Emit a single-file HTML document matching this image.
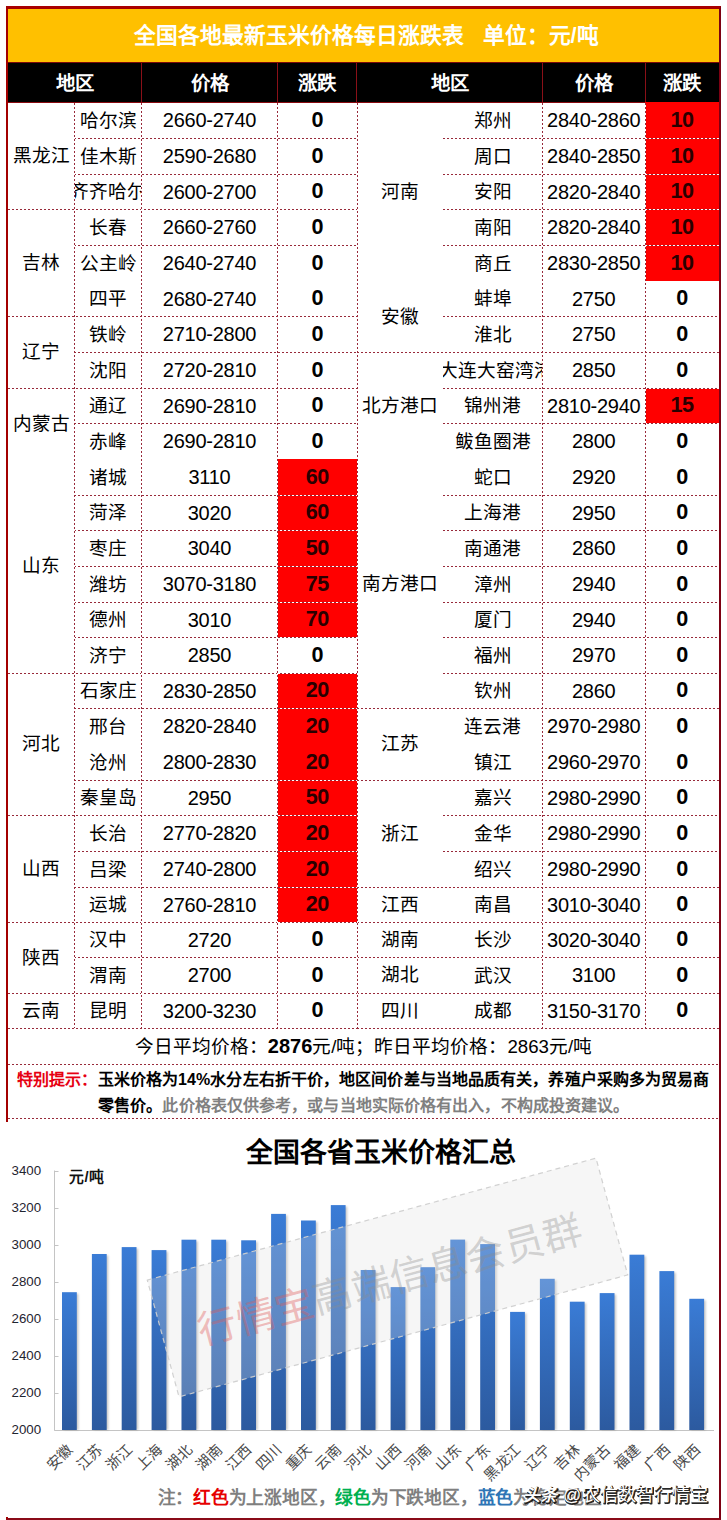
<!DOCTYPE html>
<html lang="zh-CN">
<head>
<meta charset="utf-8">
<title>全国各地最新玉米价格每日涨跌表</title>
<style>
html,body{margin:0;padding:0;background:#fff;}
body{width:727px;height:1520px;position:relative;overflow:hidden;font-family:"Liberation Sans",sans-serif;color:#000;}
div,span{box-sizing:border-box;}
.a{position:absolute;}
.frame{left:6px;top:6px;width:715px;height:1514px;border:2px solid #b3000c;border-top-width:3px;border-color:#a80000 #7d0012 #8a0a18 #a30000;}
.title{left:8px;top:9px;width:711px;height:53px;background:#ffc000;color:#fff;font-weight:bold;font-size:21.7px;line-height:54px;text-align:center;padding-left:6px;white-space:pre;}
.hdr{left:8px;top:62px;width:711px;height:41px;background:#000;border-top:1px solid #7a0a0a;border-bottom:1px solid #8a0a10;}
.hc{top:62px;height:41px;line-height:43px;color:#fff;font-weight:bold;font-size:19.4px;text-align:center;}
.hs{top:63px;width:1px;height:39px;background:#8a1018;}
.c{height:36px;line-height:36px;font-size:18.67px;text-align:center;white-space:nowrap;overflow:hidden;display:flex;justify-content:center;align-items:center;}
.n{font-size:20px;letter-spacing:-0.25px;}
.b span{position:relative;top:-0.5px;}
.b{font-weight:bold;font-size:21.6px;letter-spacing:-0.6px;}
.t span{position:relative;top:0.5px;}
.g span{position:relative;top:-2.5px;}
.sum b{font-size:20px;}
.red{background:#ff0000;}
.red span{color:#2a0000;}
.g{font-size:18.67px;text-align:center;white-space:nowrap;display:flex;justify-content:center;align-items:center;overflow:hidden;}
.hl{height:1px;background:repeating-linear-gradient(90deg,#982a3a 0,#982a3a 2px,#fff 2px,#fff 4px);}
.vl{width:1px;background:repeating-linear-gradient(180deg,#982a3a 0,#982a3a 2px,#fff 2px,#fff 4px);}
.sum{left:8px;top:1029px;width:711px;height:35px;line-height:34px;font-size:18.67px;text-align:center;white-space:nowrap;}
.note{font-size:16px;font-weight:bold;white-space:nowrap;line-height:26px;letter-spacing:0.1px;}
.note .r{color:#e60012;}
.note .gy{color:#808080;}
</style>
</head>
<body>

<div class="a frame"></div>
<div class="a title">全国各地最新玉米价格每日涨跌表   单位：元/吨</div>
<div class="a hdr"></div>
<div class="a hc" style="left:8px;width:133.5px">地区</div>
<div class="a hc" style="left:141.5px;width:136px">价格</div>
<div class="a hc" style="left:277.5px;width:79.5px">涨跌</div>
<div class="a hc" style="left:357px;width:185.5px">地区</div>
<div class="a hc" style="left:542.5px;width:102.5px">价格</div>
<div class="a hc" style="left:645px;width:74px">涨跌</div>
<div class="a hs" style="left:141px"></div>
<div class="a hs" style="left:277px"></div>
<div class="a hs" style="left:356px"></div>
<div class="a hs" style="left:542px"></div>
<div class="a hs" style="left:645px"></div>
<div class="a c t" style="left:74.5px;top:102px;width:67px;height:36px"><span>哈尔滨</span></div>
<div class="a c n" style="left:141.5px;top:102px;width:136px;height:36px"><span>2660-2740</span></div>
<div class="a c b" style="left:277.5px;top:102px;width:79.5px;height:36px"><span>0</span></div>
<div class="a c t" style="left:74.5px;top:138px;width:67px;height:36px"><span>佳木斯</span></div>
<div class="a c n" style="left:141.5px;top:138px;width:136px;height:36px"><span>2590-2680</span></div>
<div class="a c b" style="left:277.5px;top:138px;width:79.5px;height:36px"><span>0</span></div>
<div class="a c t" style="left:74.5px;top:174px;width:67px;height:35px"><span>齐齐哈尔</span></div>
<div class="a c n" style="left:141.5px;top:174px;width:136px;height:35px"><span>2600-2700</span></div>
<div class="a c b" style="left:277.5px;top:174px;width:79.5px;height:35px"><span>0</span></div>
<div class="a c t" style="left:74.5px;top:209px;width:67px;height:36px"><span>长春</span></div>
<div class="a c n" style="left:141.5px;top:209px;width:136px;height:36px"><span>2660-2760</span></div>
<div class="a c b" style="left:277.5px;top:209px;width:79.5px;height:36px"><span>0</span></div>
<div class="a c t" style="left:74.5px;top:245px;width:67px;height:36px"><span>公主岭</span></div>
<div class="a c n" style="left:141.5px;top:245px;width:136px;height:36px"><span>2640-2740</span></div>
<div class="a c b" style="left:277.5px;top:245px;width:79.5px;height:36px"><span>0</span></div>
<div class="a c t" style="left:74.5px;top:281px;width:67px;height:35px"><span>四平</span></div>
<div class="a c n" style="left:141.5px;top:281px;width:136px;height:35px"><span>2680-2740</span></div>
<div class="a c b" style="left:277.5px;top:281px;width:79.5px;height:35px"><span>0</span></div>
<div class="a c t" style="left:74.5px;top:316px;width:67px;height:36px"><span>铁岭</span></div>
<div class="a c n" style="left:141.5px;top:316px;width:136px;height:36px"><span>2710-2800</span></div>
<div class="a c b" style="left:277.5px;top:316px;width:79.5px;height:36px"><span>0</span></div>
<div class="a c t" style="left:74.5px;top:352px;width:67px;height:36px"><span>沈阳</span></div>
<div class="a c n" style="left:141.5px;top:352px;width:136px;height:36px"><span>2720-2810</span></div>
<div class="a c b" style="left:277.5px;top:352px;width:79.5px;height:36px"><span>0</span></div>
<div class="a c t" style="left:74.5px;top:388px;width:67px;height:35px"><span>通辽</span></div>
<div class="a c n" style="left:141.5px;top:388px;width:136px;height:35px"><span>2690-2810</span></div>
<div class="a c b" style="left:277.5px;top:388px;width:79.5px;height:35px"><span>0</span></div>
<div class="a c t" style="left:74.5px;top:423px;width:67px;height:36px"><span>赤峰</span></div>
<div class="a c n" style="left:141.5px;top:423px;width:136px;height:36px"><span>2690-2810</span></div>
<div class="a c b" style="left:277.5px;top:423px;width:79.5px;height:36px"><span>0</span></div>
<div class="a c t" style="left:74.5px;top:459px;width:67px;height:36px"><span>诸城</span></div>
<div class="a c n" style="left:141.5px;top:459px;width:136px;height:36px"><span>3110</span></div>
<div class="a c b red" style="left:277.5px;top:459px;width:79.5px;height:36px"><span>60</span></div>
<div class="a c t" style="left:74.5px;top:495px;width:67px;height:35px"><span>菏泽</span></div>
<div class="a c n" style="left:141.5px;top:495px;width:136px;height:35px"><span>3020</span></div>
<div class="a c b red" style="left:277.5px;top:495px;width:79.5px;height:35px"><span>60</span></div>
<div class="a c t" style="left:74.5px;top:530px;width:67px;height:36px"><span>枣庄</span></div>
<div class="a c n" style="left:141.5px;top:530px;width:136px;height:36px"><span>3040</span></div>
<div class="a c b red" style="left:277.5px;top:530px;width:79.5px;height:36px"><span>50</span></div>
<div class="a c t" style="left:74.5px;top:566px;width:67px;height:36px"><span>潍坊</span></div>
<div class="a c n" style="left:141.5px;top:566px;width:136px;height:36px"><span>3070-3180</span></div>
<div class="a c b red" style="left:277.5px;top:566px;width:79.5px;height:36px"><span>75</span></div>
<div class="a c t" style="left:74.5px;top:602px;width:67px;height:35px"><span>德州</span></div>
<div class="a c n" style="left:141.5px;top:602px;width:136px;height:35px"><span>3010</span></div>
<div class="a c b red" style="left:277.5px;top:602px;width:79.5px;height:35px"><span>70</span></div>
<div class="a c t" style="left:74.5px;top:637px;width:67px;height:36px"><span>济宁</span></div>
<div class="a c n" style="left:141.5px;top:637px;width:136px;height:36px"><span>2850</span></div>
<div class="a c b" style="left:277.5px;top:637px;width:79.5px;height:36px"><span>0</span></div>
<div class="a c t" style="left:74.5px;top:673px;width:67px;height:35px"><span>石家庄</span></div>
<div class="a c n" style="left:141.5px;top:673px;width:136px;height:35px"><span>2830-2850</span></div>
<div class="a c b red" style="left:277.5px;top:673px;width:79.5px;height:35px"><span>20</span></div>
<div class="a c t" style="left:74.5px;top:708px;width:67px;height:36px"><span>邢台</span></div>
<div class="a c n" style="left:141.5px;top:708px;width:136px;height:36px"><span>2820-2840</span></div>
<div class="a c b red" style="left:277.5px;top:708px;width:79.5px;height:36px"><span>20</span></div>
<div class="a c t" style="left:74.5px;top:744px;width:67px;height:36px"><span>沧州</span></div>
<div class="a c n" style="left:141.5px;top:744px;width:136px;height:36px"><span>2800-2830</span></div>
<div class="a c b red" style="left:277.5px;top:744px;width:79.5px;height:36px"><span>20</span></div>
<div class="a c t" style="left:74.5px;top:780px;width:67px;height:35px"><span>秦皇岛</span></div>
<div class="a c n" style="left:141.5px;top:780px;width:136px;height:35px"><span>2950</span></div>
<div class="a c b red" style="left:277.5px;top:780px;width:79.5px;height:35px"><span>50</span></div>
<div class="a c t" style="left:74.5px;top:815px;width:67px;height:36px"><span>长治</span></div>
<div class="a c n" style="left:141.5px;top:815px;width:136px;height:36px"><span>2770-2820</span></div>
<div class="a c b red" style="left:277.5px;top:815px;width:79.5px;height:36px"><span>20</span></div>
<div class="a c t" style="left:74.5px;top:851px;width:67px;height:36px"><span>吕梁</span></div>
<div class="a c n" style="left:141.5px;top:851px;width:136px;height:36px"><span>2740-2800</span></div>
<div class="a c b red" style="left:277.5px;top:851px;width:79.5px;height:36px"><span>20</span></div>
<div class="a c t" style="left:74.5px;top:887px;width:67px;height:35px"><span>运城</span></div>
<div class="a c n" style="left:141.5px;top:887px;width:136px;height:35px"><span>2760-2810</span></div>
<div class="a c b red" style="left:277.5px;top:887px;width:79.5px;height:35px"><span>20</span></div>
<div class="a c t" style="left:74.5px;top:922px;width:67px;height:35px"><span>汉中</span></div>
<div class="a c n" style="left:141.5px;top:922px;width:136px;height:35px"><span>2720</span></div>
<div class="a c b" style="left:277.5px;top:922px;width:79.5px;height:35px"><span>0</span></div>
<div class="a c t" style="left:74.5px;top:957px;width:67px;height:36px"><span>渭南</span></div>
<div class="a c n" style="left:141.5px;top:957px;width:136px;height:36px"><span>2700</span></div>
<div class="a c b" style="left:277.5px;top:957px;width:79.5px;height:36px"><span>0</span></div>
<div class="a c t" style="left:74.5px;top:993px;width:67px;height:35px"><span>昆明</span></div>
<div class="a c n" style="left:141.5px;top:993px;width:136px;height:35px"><span>3200-3230</span></div>
<div class="a c b" style="left:277.5px;top:993px;width:79.5px;height:35px"><span>0</span></div>
<div class="a c t" style="left:443px;top:102px;width:99.5px;height:36px"><span>郑州</span></div>
<div class="a c n" style="left:542.5px;top:102px;width:102.5px;height:36px"><span>2840-2860</span></div>
<div class="a c b red" style="left:645px;top:102px;width:74px;height:36px"><span>10</span></div>
<div class="a c t" style="left:443px;top:138px;width:99.5px;height:36px"><span>周口</span></div>
<div class="a c n" style="left:542.5px;top:138px;width:102.5px;height:36px"><span>2840-2850</span></div>
<div class="a c b red" style="left:645px;top:138px;width:74px;height:36px"><span>10</span></div>
<div class="a c t" style="left:443px;top:174px;width:99.5px;height:35px"><span>安阳</span></div>
<div class="a c n" style="left:542.5px;top:174px;width:102.5px;height:35px"><span>2820-2840</span></div>
<div class="a c b red" style="left:645px;top:174px;width:74px;height:35px"><span>10</span></div>
<div class="a c t" style="left:443px;top:209px;width:99.5px;height:36px"><span>南阳</span></div>
<div class="a c n" style="left:542.5px;top:209px;width:102.5px;height:36px"><span>2820-2840</span></div>
<div class="a c b red" style="left:645px;top:209px;width:74px;height:36px"><span>10</span></div>
<div class="a c t" style="left:443px;top:245px;width:99.5px;height:36px"><span>商丘</span></div>
<div class="a c n" style="left:542.5px;top:245px;width:102.5px;height:36px"><span>2830-2850</span></div>
<div class="a c b red" style="left:645px;top:245px;width:74px;height:36px"><span>10</span></div>
<div class="a c t" style="left:443px;top:281px;width:99.5px;height:35px"><span>蚌埠</span></div>
<div class="a c n" style="left:542.5px;top:281px;width:102.5px;height:35px"><span>2750</span></div>
<div class="a c b" style="left:645px;top:281px;width:74px;height:35px"><span>0</span></div>
<div class="a c t" style="left:443px;top:316px;width:99.5px;height:36px"><span>淮北</span></div>
<div class="a c n" style="left:542.5px;top:316px;width:102.5px;height:36px"><span>2750</span></div>
<div class="a c b" style="left:645px;top:316px;width:74px;height:36px"><span>0</span></div>
<div class="a c t" style="left:443px;top:352px;width:99.5px;height:36px"><span><i style="font-style:normal;padding-left:7px">大连大窑湾港</i></span></div>
<div class="a c n" style="left:542.5px;top:352px;width:102.5px;height:36px"><span>2850</span></div>
<div class="a c b" style="left:645px;top:352px;width:74px;height:36px"><span>0</span></div>
<div class="a c t" style="left:443px;top:388px;width:99.5px;height:35px"><span>锦州港</span></div>
<div class="a c n" style="left:542.5px;top:388px;width:102.5px;height:35px"><span>2810-2940</span></div>
<div class="a c b red" style="left:645px;top:388px;width:74px;height:35px"><span>15</span></div>
<div class="a c t" style="left:443px;top:423px;width:99.5px;height:36px"><span>鲅鱼圈港</span></div>
<div class="a c n" style="left:542.5px;top:423px;width:102.5px;height:36px"><span>2800</span></div>
<div class="a c b" style="left:645px;top:423px;width:74px;height:36px"><span>0</span></div>
<div class="a c t" style="left:443px;top:459px;width:99.5px;height:36px"><span>蛇口</span></div>
<div class="a c n" style="left:542.5px;top:459px;width:102.5px;height:36px"><span>2920</span></div>
<div class="a c b" style="left:645px;top:459px;width:74px;height:36px"><span>0</span></div>
<div class="a c t" style="left:443px;top:495px;width:99.5px;height:35px"><span>上海港</span></div>
<div class="a c n" style="left:542.5px;top:495px;width:102.5px;height:35px"><span>2950</span></div>
<div class="a c b" style="left:645px;top:495px;width:74px;height:35px"><span>0</span></div>
<div class="a c t" style="left:443px;top:530px;width:99.5px;height:36px"><span>南通港</span></div>
<div class="a c n" style="left:542.5px;top:530px;width:102.5px;height:36px"><span>2860</span></div>
<div class="a c b" style="left:645px;top:530px;width:74px;height:36px"><span>0</span></div>
<div class="a c t" style="left:443px;top:566px;width:99.5px;height:36px"><span>漳州</span></div>
<div class="a c n" style="left:542.5px;top:566px;width:102.5px;height:36px"><span>2940</span></div>
<div class="a c b" style="left:645px;top:566px;width:74px;height:36px"><span>0</span></div>
<div class="a c t" style="left:443px;top:602px;width:99.5px;height:35px"><span>厦门</span></div>
<div class="a c n" style="left:542.5px;top:602px;width:102.5px;height:35px"><span>2940</span></div>
<div class="a c b" style="left:645px;top:602px;width:74px;height:35px"><span>0</span></div>
<div class="a c t" style="left:443px;top:637px;width:99.5px;height:36px"><span>福州</span></div>
<div class="a c n" style="left:542.5px;top:637px;width:102.5px;height:36px"><span>2970</span></div>
<div class="a c b" style="left:645px;top:637px;width:74px;height:36px"><span>0</span></div>
<div class="a c t" style="left:443px;top:673px;width:99.5px;height:35px"><span>钦州</span></div>
<div class="a c n" style="left:542.5px;top:673px;width:102.5px;height:35px"><span>2860</span></div>
<div class="a c b" style="left:645px;top:673px;width:74px;height:35px"><span>0</span></div>
<div class="a c t" style="left:443px;top:708px;width:99.5px;height:36px"><span>连云港</span></div>
<div class="a c n" style="left:542.5px;top:708px;width:102.5px;height:36px"><span>2970-2980</span></div>
<div class="a c b" style="left:645px;top:708px;width:74px;height:36px"><span>0</span></div>
<div class="a c t" style="left:443px;top:744px;width:99.5px;height:36px"><span>镇江</span></div>
<div class="a c n" style="left:542.5px;top:744px;width:102.5px;height:36px"><span>2960-2970</span></div>
<div class="a c b" style="left:645px;top:744px;width:74px;height:36px"><span>0</span></div>
<div class="a c t" style="left:443px;top:780px;width:99.5px;height:35px"><span>嘉兴</span></div>
<div class="a c n" style="left:542.5px;top:780px;width:102.5px;height:35px"><span>2980-2990</span></div>
<div class="a c b" style="left:645px;top:780px;width:74px;height:35px"><span>0</span></div>
<div class="a c t" style="left:443px;top:815px;width:99.5px;height:36px"><span>金华</span></div>
<div class="a c n" style="left:542.5px;top:815px;width:102.5px;height:36px"><span>2980-2990</span></div>
<div class="a c b" style="left:645px;top:815px;width:74px;height:36px"><span>0</span></div>
<div class="a c t" style="left:443px;top:851px;width:99.5px;height:36px"><span>绍兴</span></div>
<div class="a c n" style="left:542.5px;top:851px;width:102.5px;height:36px"><span>2980-2990</span></div>
<div class="a c b" style="left:645px;top:851px;width:74px;height:36px"><span>0</span></div>
<div class="a c t" style="left:443px;top:887px;width:99.5px;height:35px"><span>南昌</span></div>
<div class="a c n" style="left:542.5px;top:887px;width:102.5px;height:35px"><span>3010-3040</span></div>
<div class="a c b" style="left:645px;top:887px;width:74px;height:35px"><span>0</span></div>
<div class="a c t" style="left:443px;top:922px;width:99.5px;height:35px"><span>长沙</span></div>
<div class="a c n" style="left:542.5px;top:922px;width:102.5px;height:35px"><span>3020-3040</span></div>
<div class="a c b" style="left:645px;top:922px;width:74px;height:35px"><span>0</span></div>
<div class="a c t" style="left:443px;top:957px;width:99.5px;height:36px"><span>武汉</span></div>
<div class="a c n" style="left:542.5px;top:957px;width:102.5px;height:36px"><span>3100</span></div>
<div class="a c b" style="left:645px;top:957px;width:74px;height:36px"><span>0</span></div>
<div class="a c t" style="left:443px;top:993px;width:99.5px;height:35px"><span>成都</span></div>
<div class="a c n" style="left:542.5px;top:993px;width:102.5px;height:35px"><span>3150-3170</span></div>
<div class="a c b" style="left:645px;top:993px;width:74px;height:35px"><span>0</span></div>
<div class="a g" style="left:8px;top:102px;width:66.5px;height:107px"><span>黑龙江</span></div>
<div class="a g" style="left:8px;top:209px;width:66.5px;height:107px"><span>吉林</span></div>
<div class="a g" style="left:8px;top:316px;width:66.5px;height:72px"><span>辽宁</span></div>
<div class="a g" style="left:8px;top:388px;width:66.5px;height:71px"><span>内蒙古</span></div>
<div class="a g" style="left:8px;top:459px;width:66.5px;height:214px"><span>山东</span></div>
<div class="a g" style="left:8px;top:673px;width:66.5px;height:142px"><span>河北</span></div>
<div class="a g" style="left:8px;top:815px;width:66.5px;height:107px"><span>山西</span></div>
<div class="a g" style="left:8px;top:922px;width:66.5px;height:71px"><span>陕西</span></div>
<div class="a g" style="left:8px;top:993px;width:66.5px;height:35px"><span>云南</span></div>
<div class="a g" style="left:357px;top:102px;width:86px;height:179px"><span>河南</span></div>
<div class="a g" style="left:357px;top:281px;width:86px;height:71px"><span>安徽</span></div>
<div class="a g" style="left:357px;top:352px;width:86px;height:107px"><span>北方港口</span></div>
<div class="a g" style="left:357px;top:459px;width:86px;height:249px"><span>南方港口</span></div>
<div class="a g" style="left:357px;top:708px;width:86px;height:72px"><span>江苏</span></div>
<div class="a g" style="left:357px;top:780px;width:86px;height:107px"><span>浙江</span></div>
<div class="a g" style="left:357px;top:887px;width:86px;height:35px"><span>江西</span></div>
<div class="a g" style="left:357px;top:922px;width:86px;height:35px"><span>湖南</span></div>
<div class="a g" style="left:357px;top:957px;width:86px;height:36px"><span>湖北</span></div>
<div class="a g" style="left:357px;top:993px;width:86px;height:35px"><span>四川</span></div>
<div class="a hl" style="left:74px;top:138px;width:283px"></div>
<div class="a hl" style="left:443px;top:138px;width:276px"></div>
<div class="a hl" style="left:74px;top:174px;width:283px"></div>
<div class="a hl" style="left:443px;top:174px;width:276px"></div>
<div class="a hl" style="left:8px;top:209px;width:349px"></div>
<div class="a hl" style="left:443px;top:209px;width:276px"></div>
<div class="a hl" style="left:74px;top:245px;width:283px"></div>
<div class="a hl" style="left:443px;top:245px;width:276px"></div>
<div class="a hl" style="left:8px;top:316px;width:349px"></div>
<div class="a hl" style="left:443px;top:316px;width:276px"></div>
<div class="a hl" style="left:74px;top:352px;width:283px"></div>
<div class="a hl" style="left:357px;top:352px;width:362px"></div>
<div class="a hl" style="left:8px;top:388px;width:349px"></div>
<div class="a hl" style="left:443px;top:388px;width:276px"></div>
<div class="a hl" style="left:74px;top:423px;width:283px"></div>
<div class="a hl" style="left:443px;top:423px;width:276px"></div>
<div class="a hl" style="left:74px;top:495px;width:283px"></div>
<div class="a hl" style="left:443px;top:495px;width:276px"></div>
<div class="a hl" style="left:74px;top:530px;width:283px"></div>
<div class="a hl" style="left:443px;top:530px;width:276px"></div>
<div class="a hl" style="left:74px;top:566px;width:283px"></div>
<div class="a hl" style="left:443px;top:566px;width:276px"></div>
<div class="a hl" style="left:74px;top:602px;width:283px"></div>
<div class="a hl" style="left:443px;top:602px;width:276px"></div>
<div class="a hl" style="left:74px;top:637px;width:283px"></div>
<div class="a hl" style="left:443px;top:637px;width:276px"></div>
<div class="a hl" style="left:8px;top:673px;width:349px"></div>
<div class="a hl" style="left:443px;top:673px;width:276px"></div>
<div class="a hl" style="left:74px;top:708px;width:283px"></div>
<div class="a hl" style="left:357px;top:708px;width:362px"></div>
<div class="a hl" style="left:74px;top:780px;width:283px"></div>
<div class="a hl" style="left:357px;top:780px;width:362px"></div>
<div class="a hl" style="left:8px;top:815px;width:349px"></div>
<div class="a hl" style="left:443px;top:815px;width:276px"></div>
<div class="a hl" style="left:74px;top:851px;width:283px"></div>
<div class="a hl" style="left:443px;top:851px;width:276px"></div>
<div class="a hl" style="left:74px;top:887px;width:283px"></div>
<div class="a hl" style="left:357px;top:887px;width:362px"></div>
<div class="a hl" style="left:8px;top:922px;width:349px"></div>
<div class="a hl" style="left:357px;top:922px;width:362px"></div>
<div class="a hl" style="left:74px;top:957px;width:283px"></div>
<div class="a hl" style="left:357px;top:957px;width:362px"></div>
<div class="a hl" style="left:8px;top:993px;width:349px"></div>
<div class="a hl" style="left:357px;top:993px;width:362px"></div>
<div class="a hl" style="left:8px;top:1028px;width:349px"></div>
<div class="a hl" style="left:357px;top:1028px;width:362px"></div>
<div class="a vl" style="left:74px;top:103px;width:1px;height:925px"></div>
<div class="a vl" style="left:141px;top:103px;width:1px;height:925px"></div>
<div class="a vl" style="left:277px;top:103px;width:1px;height:925px"></div>
<div class="a vl" style="left:357px;top:103px;width:1px;height:925px"></div>
<div class="a vl" style="left:542px;top:103px;width:1px;height:925px"></div>
<div class="a vl" style="left:645px;top:103px;width:1px;height:925px"></div>
<div class="a sum">今日平均价格：<b>2876</b>元/吨；昨日平均价格：2863元/吨</div>
<div class="a hl" style="left:8px;top:1064px;width:711px"></div>
<div class="a note" style="left:17px;top:1067px"><span class="r">特别提示：</span>玉米价格为14%水分左右折干价，地区间价差与当地品质有关，养殖户采购多为贸易商</div>
<div class="a note" style="left:98px;top:1093px">零售价。<span class="gy">此价格表仅供参考，或与当地实际价格有出入，不构成投资建议。</span></div>
<div class="a hl" style="left:8px;top:1118px;width:711px"></div>
<div class="a" style="left:0;top:1122px;width:719px;height:395px;background:#fff"></div>
<svg class="a" style="left:0;top:1122px" width="727" height="398" viewBox="0 1122 727 398" font-family="'Liberation Sans', sans-serif">
<defs><linearGradient id="bg" x1="0" y1="0" x2="0" y2="1"><stop offset="0" stop-color="#3a7cd6"/><stop offset="1" stop-color="#2c5a9f"/></linearGradient><filter id="sh" x="-30%" y="-5%" width="180%" height="110%"><feGaussianBlur stdDeviation="1.2"/></filter></defs>
<text x="380.5" y="1161.5" text-anchor="middle" font-size="26.9" font-weight="bold" fill="#000">全国各省玉米价格汇总</text>
<path d="M54.5 1170.5V1430.5H714" fill="none" stroke="#c4c4c4" stroke-width="1"/>
<path d="M54.5 1430.5h4" stroke="#c4c4c4" stroke-width="1"/>
<text x="11.5" y="1434.2" font-size="13.3" fill="#1f2430">2000</text>
<path d="M54.5 1393.5h4" stroke="#c4c4c4" stroke-width="1"/>
<text x="11.5" y="1397.2" font-size="13.3" fill="#1f2430">2200</text>
<path d="M54.5 1356.5h4" stroke="#c4c4c4" stroke-width="1"/>
<text x="11.5" y="1360.1" font-size="13.3" fill="#1f2430">2400</text>
<path d="M54.5 1319.5h4" stroke="#c4c4c4" stroke-width="1"/>
<text x="11.5" y="1323.0" font-size="13.3" fill="#1f2430">2600</text>
<path d="M54.5 1282.5h4" stroke="#c4c4c4" stroke-width="1"/>
<text x="11.5" y="1286.0" font-size="13.3" fill="#1f2430">2800</text>
<path d="M54.5 1245.5h4" stroke="#c4c4c4" stroke-width="1"/>
<text x="11.5" y="1249.0" font-size="13.3" fill="#1f2430">3000</text>
<path d="M54.5 1208.5h4" stroke="#c4c4c4" stroke-width="1"/>
<text x="11.5" y="1211.9" font-size="13.3" fill="#1f2430">3200</text>
<path d="M54.5 1171.5h4" stroke="#c4c4c4" stroke-width="1"/>
<text x="11.5" y="1174.9" font-size="13.3" fill="#1f2430">3400</text>
<text x="68.5" y="1181.5" font-size="14.8" letter-spacing="0.9" font-weight="bold" fill="#111">元/吨</text>
<rect x="63.6" y="1293.7" width="14.8" height="136.3" fill="#000" opacity="0.22" filter="url(#sh)"/>
<rect x="62.0" y="1292.2" width="14.8" height="137.8" fill="url(#bg)"/>
<rect x="93.5" y="1255.5" width="14.8" height="174.5" fill="#000" opacity="0.22" filter="url(#sh)"/>
<rect x="91.9" y="1254.0" width="14.8" height="176.0" fill="url(#bg)"/>
<rect x="123.3" y="1248.6" width="14.8" height="181.4" fill="#000" opacity="0.22" filter="url(#sh)"/>
<rect x="121.7" y="1247.1" width="14.8" height="182.9" fill="url(#bg)"/>
<rect x="153.2" y="1251.6" width="14.8" height="178.4" fill="#000" opacity="0.22" filter="url(#sh)"/>
<rect x="151.6" y="1250.1" width="14.8" height="179.9" fill="url(#bg)"/>
<rect x="183.1" y="1241.2" width="14.8" height="188.8" fill="#000" opacity="0.22" filter="url(#sh)"/>
<rect x="181.5" y="1239.7" width="14.8" height="190.3" fill="url(#bg)"/>
<rect x="212.9" y="1241.2" width="14.8" height="188.8" fill="#000" opacity="0.22" filter="url(#sh)"/>
<rect x="211.3" y="1239.7" width="14.8" height="190.3" fill="url(#bg)"/>
<rect x="242.8" y="1241.8" width="14.8" height="188.2" fill="#000" opacity="0.22" filter="url(#sh)"/>
<rect x="241.2" y="1240.3" width="14.8" height="189.7" fill="url(#bg)"/>
<rect x="272.7" y="1215.4" width="14.8" height="214.6" fill="#000" opacity="0.22" filter="url(#sh)"/>
<rect x="271.1" y="1213.9" width="14.8" height="216.1" fill="url(#bg)"/>
<rect x="302.6" y="1222.0" width="14.8" height="208.0" fill="#000" opacity="0.22" filter="url(#sh)"/>
<rect x="301.0" y="1220.5" width="14.8" height="209.5" fill="url(#bg)"/>
<rect x="332.4" y="1206.6" width="14.8" height="223.4" fill="#000" opacity="0.22" filter="url(#sh)"/>
<rect x="330.8" y="1205.1" width="14.8" height="224.9" fill="url(#bg)"/>
<rect x="362.3" y="1271.5" width="14.8" height="158.5" fill="#000" opacity="0.22" filter="url(#sh)"/>
<rect x="360.7" y="1270.0" width="14.8" height="160.0" fill="url(#bg)"/>
<rect x="392.2" y="1288.6" width="14.8" height="141.4" fill="#000" opacity="0.22" filter="url(#sh)"/>
<rect x="390.6" y="1287.1" width="14.8" height="142.9" fill="url(#bg)"/>
<rect x="422.0" y="1268.7" width="14.8" height="161.3" fill="#000" opacity="0.22" filter="url(#sh)"/>
<rect x="420.4" y="1267.2" width="14.8" height="162.8" fill="url(#bg)"/>
<rect x="451.9" y="1241.1" width="14.8" height="188.9" fill="#000" opacity="0.22" filter="url(#sh)"/>
<rect x="450.3" y="1239.6" width="14.8" height="190.4" fill="url(#bg)"/>
<rect x="481.8" y="1245.6" width="14.8" height="184.4" fill="#000" opacity="0.22" filter="url(#sh)"/>
<rect x="480.2" y="1244.1" width="14.8" height="185.9" fill="url(#bg)"/>
<rect x="511.7" y="1313.4" width="14.8" height="116.6" fill="#000" opacity="0.22" filter="url(#sh)"/>
<rect x="510.1" y="1311.9" width="14.8" height="118.1" fill="url(#bg)"/>
<rect x="541.5" y="1280.3" width="14.8" height="149.7" fill="#000" opacity="0.22" filter="url(#sh)"/>
<rect x="539.9" y="1278.8" width="14.8" height="151.2" fill="url(#bg)"/>
<rect x="571.4" y="1303.2" width="14.8" height="126.8" fill="#000" opacity="0.22" filter="url(#sh)"/>
<rect x="569.8" y="1301.7" width="14.8" height="128.3" fill="url(#bg)"/>
<rect x="601.3" y="1294.6" width="14.8" height="135.4" fill="#000" opacity="0.22" filter="url(#sh)"/>
<rect x="599.7" y="1293.1" width="14.8" height="136.9" fill="url(#bg)"/>
<rect x="631.1" y="1256.2" width="14.8" height="173.8" fill="#000" opacity="0.22" filter="url(#sh)"/>
<rect x="629.5" y="1254.7" width="14.8" height="175.3" fill="url(#bg)"/>
<rect x="661.0" y="1272.6" width="14.8" height="157.4" fill="#000" opacity="0.22" filter="url(#sh)"/>
<rect x="659.4" y="1271.1" width="14.8" height="158.9" fill="url(#bg)"/>
<rect x="690.9" y="1300.3" width="14.8" height="129.7" fill="#000" opacity="0.22" filter="url(#sh)"/>
<rect x="689.3" y="1298.8" width="14.8" height="131.2" fill="url(#bg)"/>
<text transform="translate(70.2 1446.3) rotate(-45)" text-anchor="end" dy="5.2" font-family="'Liberation Serif', serif" font-size="14.6" fill="#4a4a4a">安徽</text>
<text transform="translate(100.1 1446.3) rotate(-45)" text-anchor="end" dy="5.2" font-family="'Liberation Serif', serif" font-size="14.6" fill="#4a4a4a">江苏</text>
<text transform="translate(129.9 1446.3) rotate(-45)" text-anchor="end" dy="5.2" font-family="'Liberation Serif', serif" font-size="14.6" fill="#4a4a4a">浙江</text>
<text transform="translate(159.8 1446.3) rotate(-45)" text-anchor="end" dy="5.2" font-family="'Liberation Serif', serif" font-size="14.6" fill="#4a4a4a">上海</text>
<text transform="translate(189.7 1446.3) rotate(-45)" text-anchor="end" dy="5.2" font-family="'Liberation Serif', serif" font-size="14.6" fill="#4a4a4a">湖北</text>
<text transform="translate(219.6 1446.3) rotate(-45)" text-anchor="end" dy="5.2" font-family="'Liberation Serif', serif" font-size="14.6" fill="#4a4a4a">湖南</text>
<text transform="translate(249.4 1446.3) rotate(-45)" text-anchor="end" dy="5.2" font-family="'Liberation Serif', serif" font-size="14.6" fill="#4a4a4a">江西</text>
<text transform="translate(279.3 1446.3) rotate(-45)" text-anchor="end" dy="5.2" font-family="'Liberation Serif', serif" font-size="14.6" fill="#4a4a4a">四川</text>
<text transform="translate(309.2 1446.3) rotate(-45)" text-anchor="end" dy="5.2" font-family="'Liberation Serif', serif" font-size="14.6" fill="#4a4a4a">重庆</text>
<text transform="translate(339.0 1446.3) rotate(-45)" text-anchor="end" dy="5.2" font-family="'Liberation Serif', serif" font-size="14.6" fill="#4a4a4a">云南</text>
<text transform="translate(368.9 1446.3) rotate(-45)" text-anchor="end" dy="5.2" font-family="'Liberation Serif', serif" font-size="14.6" fill="#4a4a4a">河北</text>
<text transform="translate(398.8 1446.3) rotate(-45)" text-anchor="end" dy="5.2" font-family="'Liberation Serif', serif" font-size="14.6" fill="#4a4a4a">山西</text>
<text transform="translate(428.6 1446.3) rotate(-45)" text-anchor="end" dy="5.2" font-family="'Liberation Serif', serif" font-size="14.6" fill="#4a4a4a">河南</text>
<text transform="translate(458.5 1446.3) rotate(-45)" text-anchor="end" dy="5.2" font-family="'Liberation Serif', serif" font-size="14.6" fill="#4a4a4a">山东</text>
<text transform="translate(488.4 1446.3) rotate(-45)" text-anchor="end" dy="5.2" font-family="'Liberation Serif', serif" font-size="14.6" fill="#4a4a4a">广东</text>
<text transform="translate(518.2 1446.3) rotate(-45)" text-anchor="end" dy="5.2" font-family="'Liberation Serif', serif" font-size="14.6" fill="#4a4a4a">黑龙江</text>
<text transform="translate(548.1 1446.3) rotate(-45)" text-anchor="end" dy="5.2" font-family="'Liberation Serif', serif" font-size="14.6" fill="#4a4a4a">辽宁</text>
<text transform="translate(578.0 1446.3) rotate(-45)" text-anchor="end" dy="5.2" font-family="'Liberation Serif', serif" font-size="14.6" fill="#4a4a4a">吉林</text>
<text transform="translate(607.9 1446.3) rotate(-45)" text-anchor="end" dy="5.2" font-family="'Liberation Serif', serif" font-size="14.6" fill="#4a4a4a">内蒙古</text>
<text transform="translate(637.7 1446.3) rotate(-45)" text-anchor="end" dy="5.2" font-family="'Liberation Serif', serif" font-size="14.6" fill="#4a4a4a">福建</text>
<text transform="translate(667.6 1446.3) rotate(-45)" text-anchor="end" dy="5.2" font-family="'Liberation Serif', serif" font-size="14.6" fill="#4a4a4a">广西</text>
<text transform="translate(697.5 1446.3) rotate(-45)" text-anchor="end" dy="5.2" font-family="'Liberation Serif', serif" font-size="14.6" fill="#4a4a4a">陕西</text>
<g transform="translate(387.5 1277.5) rotate(-15.2)"><rect x="-232.5" y="-60.5" width="465" height="121" fill="#dcdcdc" fill-opacity="0.26" stroke="#cfcfcf" stroke-opacity="0.95" stroke-width="1.2" stroke-dasharray="5 4"/><text x="-196.4" y="17" textLength="396" lengthAdjust="spacing" font-size="39"><tspan fill="#e05a5a" fill-opacity="0.38">行情宝</tspan><tspan fill="#8c8c8c" fill-opacity="0.36">高端信息会员群</tspan></text></g>
<text x="157.5" y="1503.8" font-size="17.75" letter-spacing="-0.22" font-weight="bold" fill="#7f7f7f">注：<tspan fill="#e60000">红色</tspan>为上涨地区，<tspan fill="#00b050">绿色</tspan>为下跌地区，<tspan fill="#2e75b6">蓝色</tspan>为稳定地区</text>
<g transform="translate(0.7 0.8)" fill="#151515" stroke="#151515" stroke-width="1.5" stroke-linejoin="round" opacity="0.92"><text x="523" y="1501.3" font-size="17" font-weight="bold" font-style="italic">头条</text><text x="563" y="1500.8" font-size="18">@</text><text x="582.3" y="1501.3" font-size="18.15">农信数智行情宝</text></g>
<g fill="#fff"><text x="523" y="1501.3" font-size="17" font-weight="bold" font-style="italic">头条</text><text x="563" y="1500.8" font-size="18">@</text><text x="582.3" y="1501.3" font-size="18.15">农信数智行情宝</text></g>
</svg>
</body></html>
